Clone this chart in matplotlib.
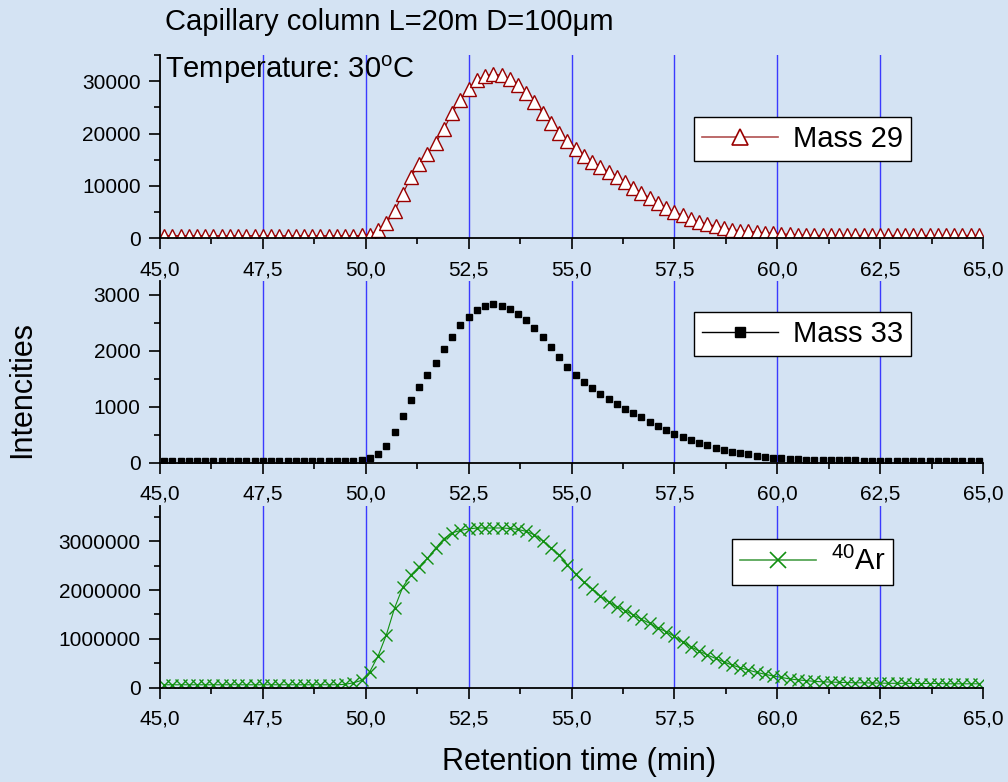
import matplotlib
matplotlib.use("Agg")
import matplotlib.pyplot as plt
from matplotlib.lines import Line2D
from matplotlib.ticker import MultipleLocator, FuncFormatter

plt.rcParams['font.family'] = ['Liberation Sans', 'DejaVu Sans']
plt.rcParams['mathtext.fontset'] = 'custom'
plt.rcParams['mathtext.rm'] = 'Liberation Sans'

# ---------------- data ----------------
times = [45.1, 45.3, 45.5, 45.7, 45.9, 46.1, 46.3, 46.5, 46.7, 46.9,
         47.1, 47.3, 47.5, 47.7, 47.9, 48.1, 48.3, 48.5, 48.7, 48.9,
         49.1, 49.3, 49.5, 49.7, 49.9, 50.1, 50.3, 50.5, 50.7, 50.9,
         51.1, 51.3, 51.5, 51.7, 51.9, 52.1, 52.3, 52.5, 52.7, 52.9,
         53.1, 53.3, 53.5, 53.7, 53.9, 54.1, 54.3, 54.5, 54.7, 54.9,
         55.1, 55.3, 55.5, 55.7, 55.9, 56.1, 56.3, 56.5, 56.7, 56.9,
         57.1, 57.3, 57.5, 57.7, 57.9, 58.1, 58.3, 58.5, 58.7, 58.9,
         59.1, 59.3, 59.5, 59.7, 59.9, 60.1, 60.3, 60.5, 60.7, 60.9,
         61.1, 61.3, 61.5, 61.7, 61.9, 62.1, 62.3, 62.5, 62.7, 62.9,
         63.1, 63.3, 63.5, 63.7, 63.9, 64.1, 64.3, 64.5, 64.7, 64.9]

mass29 = [500, 500, 500, 500, 500, 500, 500, 500, 500, 500,
          500, 500, 500, 500, 500, 500, 500, 500, 500, 500,
          500, 500, 500, 500, 550, 700, 1500, 2900, 5200, 8500,
          11700, 14200, 16150, 18200, 20900, 23900, 26400, 28600, 30200, 31000,
          31400, 31100, 30400, 29300, 27800, 26000, 23900, 22000, 20100, 18500,
          17000, 15700, 14650, 13700, 12700, 11800, 10750, 9650, 8700, 7750,
          6800, 5800, 4950, 4450, 3700, 3150, 2700, 2350, 1950, 1650,
          1450, 1300, 1200, 1050, 950, 850, 750, 650, 600, 550,
          550, 550, 550, 550, 550, 550, 550, 550, 550, 550,
          550, 550, 550, 550, 550, 550, 550, 550, 550, 550]

mass33 = [30, 30, 30, 30, 30, 30, 30, 30, 30, 30,
          30, 30, 30, 30, 30, 30, 30, 30, 30, 30,
          30, 30, 30, 30, 40, 90, 155, 305, 545, 830,
          1120, 1360, 1570, 1790, 2030, 2255, 2465, 2610, 2730, 2810,
          2835, 2810, 2750, 2660, 2550, 2415, 2245, 2075, 1895, 1720,
          1570, 1450, 1330, 1230, 1135, 1045, 960, 885, 810, 735,
          660, 585, 515, 455, 405, 360, 310, 270, 225, 195,
          175, 150, 125, 105, 90, 80, 65, 60, 55, 50,
          45, 45, 40, 40, 40, 35, 35, 35, 35, 35,
          35, 35, 35, 35, 35, 35, 35, 35, 35, 35]

ar40 = [60000, 60000, 60000, 60000, 60000, 60000, 60000, 60000, 60000, 60000,
        60000, 60000, 60000, 60000, 60000, 60000, 60000, 60000, 60000, 60000,
        60000, 60000, 70000, 100000, 150000, 330000, 650000, 1080000, 1630000, 2060000,
        2310000, 2480000, 2650000, 2860000, 3050000, 3170000, 3220000, 3250000, 3270000, 3270000,
        3270000, 3270000, 3260000, 3240000, 3200000, 3130000, 3010000, 2860000, 2720000, 2520000,
        2320000, 2160000, 2030000, 1880000, 1760000, 1660000, 1580000, 1490000, 1400000, 1320000,
        1220000, 1150000, 1050000, 940000, 840000, 750000, 670000, 600000, 530000, 465000,
        410000, 360000, 315000, 275000, 240000, 210000, 180000, 160000, 145000, 130000,
        120000, 115000, 110000, 105000, 100000, 100000, 95000, 95000, 90000, 90000,
        90000, 85000, 85000, 85000, 85000, 80000, 80000, 80000, 80000, 80000]

grid_positions = [47.5, 50.0, 52.5, 55.0, 57.5, 60.0, 62.5]
x_ticks = [45.0, 47.5, 50.0, 52.5, 55.0, 57.5, 60.0, 62.5, 65.0]

title_text = "Capillary column L=20m D=100\u03bcm"
temp_text = r"Temperature: 30$\mathregular{^o}$C"
legend_labels = ["Mass 29", "Mass 33", r"$\mathregular{^{40}}$Ar"]
ylabel = "Intencities"
xlabel = "Retention time (min)"

# ---------------- figure ----------------
W, H = 1008, 782
fig = plt.figure(figsize=(W / 100, H / 100), dpi=100)
fig.patch.set_facecolor('#d4e3f3')

def fx(px):
    return px / W

def fy(py):
    return 1 - py / H

left, right = 160, 983
panels = [(55, 238.3), (281, 462.7), (506, 687.7)]
axes = []
for top, bot in panels:
    ax = fig.add_axes([fx(left), fy(bot), fx(right - left), (bot - top) / H])
    ax.set_facecolor('none')
    axes.append(ax)

red = '#990000'
green = '#119011'
blue = '#3a3aff'

ylims = [(0, 35000), (0, 3250), (0, 3720000)]
ymajor = [10000, 1000, 1000000]
yminor = [5000, 500, 500000]

for ax, yl, ymj, ymn in zip(axes, ylims, ymajor, yminor):
    ax.set_xlim(45, 65)
    ax.set_ylim(*yl)
    for g in grid_positions:
        ax.axvline(g, color=blue, lw=1.0, zorder=1)
    ax.set_xticks(x_ticks)
    ax.xaxis.set_minor_locator(MultipleLocator(1.25))
    ax.xaxis.set_major_formatter(FuncFormatter(lambda v, p: f"{v:.1f}".replace('.', ',')))
    ax.yaxis.set_major_locator(MultipleLocator(ymj))
    ax.yaxis.set_minor_locator(MultipleLocator(ymn))
    ax.yaxis.set_major_formatter(FuncFormatter(lambda v, p: f"{int(round(v))}"))
    for s in ['top', 'right']:
        ax.spines[s].set_visible(False)
    for s in ['left', 'bottom']:
        ax.spines[s].set_linewidth(1.3)
        ax.spines[s].set_zorder(5)
    ax.tick_params(axis='both', which='major', direction='out', length=8, width=1.2,
                   labelsize=15, colors='black')
    ax.tick_params(axis='both', which='minor', direction='out', length=4.5, width=1.2)
    ax.tick_params(axis='x', which='major', pad=8)
    ax.tick_params(axis='y', which='major', pad=6)

ax1, ax2, ax3 = axes
# Mass 29
ax1.plot(times, mass29, color=red, lw=0.8, marker='^', ms=9.5, mfc='white',
         mec=red, mew=1.0, zorder=3)
# Mass 33
ax2.plot(times, mass33, ls='none', marker='s', ms=4.8, mfc='black', mec='black',
         zorder=3)
# Ar
ax3.plot(times, ar40, color=green, lw=0.8, marker='x', ms=9, mec=green, mew=1.0,
         zorder=3)

handles = [
    Line2D([], [], color='#b05050', lw=1.2, marker='^', ms=11, mfc='white', mec=red, mew=1.2),
    Line2D([], [], color='black', lw=1.0, marker='s', ms=7, mfc='black', mec='black'),
    Line2D([], [], color='#4aa04a', lw=1.2, marker='x', ms=11, mec=green, mew=1.2),
]
anchors = [(0.649, 0.662), (0.649, 0.829), (0.695, 0.818)]
for ax, h, lab, anc in zip(axes, handles, legend_labels, anchors):
    leg = ax.legend([h], [lab], loc='upper left', bbox_to_anchor=anc,
                    borderaxespad=0, fontsize=21, frameon=True, fancybox=False,
                    handlelength=2.6, handletextpad=0.5, borderpad=0.28)
    fr = leg.get_frame()
    fr.set_edgecolor('black')
    fr.set_linewidth(1.0)
    fr.set_facecolor('white')
    fr.set_alpha(1)
    leg.set_zorder(10)

fig.text(fx(165), fy(22), title_text, fontsize=21, ha='left', va='center')
fig.text(fx(165), fy(70), temp_text, fontsize=21, ha='left', va='center')
fig.text(fx(22), fy(390), ylabel, fontsize=22, rotation=90, ha='center', va='center')
fig.text(fx(579), fy(762), xlabel, fontsize=22, ha='center', va='center')

fig.savefig('out.png', dpi=100, facecolor=fig.get_facecolor())
